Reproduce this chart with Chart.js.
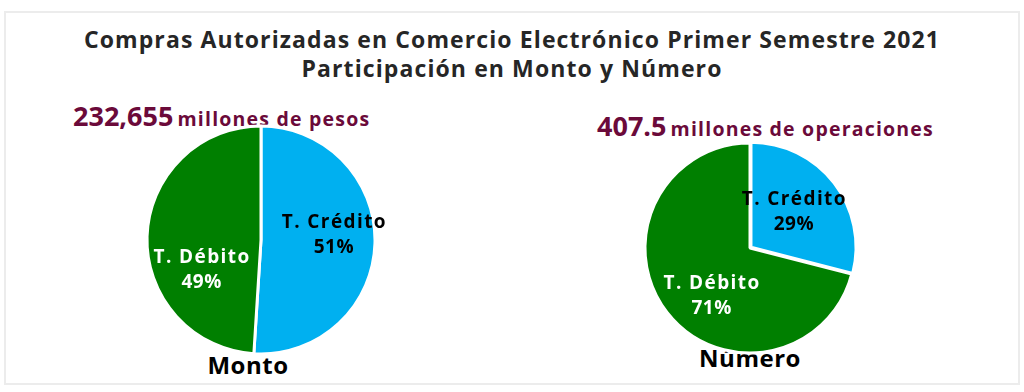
<!DOCTYPE html>
<html><head><meta charset="utf-8">
<script src="https://cdn.jsdelivr.net/npm/chart.js@4/dist/chart.umd.min.js"></script>
<style>
html,body{margin:0;padding:0;background:#fff;}
body{width:1024px;height:392px;position:relative;overflow:hidden;font-family:"Open Sans",sans-serif;}
#frame{position:absolute;left:4px;top:11px;width:1012px;height:370px;border:2px solid #ececec;box-sizing:content-box;}
.t{position:absolute;white-space:nowrap;font-weight:700;}
#title{left:0;width:1024px;top:25px;text-align:center;color:#262626;font-size:23px;line-height:29px;letter-spacing:1.1px;}
.sub{color:#6b0a3a;}
.big{font-size:27px;}
.small{font-size:19.5px;letter-spacing:1.2px;}
.cap{color:#000;font-size:24px;text-align:center;width:200px;letter-spacing:0.5px;}
canvas{position:absolute;}
</style></head>
<body>
<div id="frame"></div>
<div id="title" class="t">Compras Autorizadas en Comercio Electrónico Primer Semestre 2021<br>Participación en Monto y Número</div>
<div class="t sub" style="left:73px;top:97px;"><span class="big">232,655</span> <span class="small">millones de pesos</span></div>
<div class="t sub" style="left:597px;top:107px;"><span class="big">407.5</span> <span class="small">millones de operaciones</span></div>
<div class="t cap" style="left:148px;top:348px;">Monto</div>
<div class="t cap" style="left:650px;top:341px;">Número</div>
<canvas id="c1" width="260" height="260" style="left:131px;top:110px;"></canvas>
<canvas id="c2" width="260" height="260" style="left:620px;top:118px;"></canvas>
<script>
const categories = ['T. Crédito', 'T. Débito'];
const montoValues = [51, 49];
const numeroValues = [29, 71];
const colors = ['#00B0F0', '#007F00'];
const labelColors = ['#000000', '#ffffff'];
// label position tweaks (radial fraction, dx, dy)
const montoLabelPos = [[0.55, 10, -7], [0.55, 3, 32]];
const numeroLabelPos = [[0.55, -2, -1], [0.55, 7, 12]];

function labelPlugin(values, pos) {
  return {
    id: 'sliceLabels',
    afterDatasetsDraw(chart) {
      const ctx = chart.ctx;
      const meta = chart.getDatasetMeta(0);
      ctx.save();
      ctx.textAlign = 'center';
      ctx.textBaseline = 'middle';
      meta.data.forEach((arc, i) => {
        const mid = (arc.startAngle + arc.endAngle) / 2;
        const r = arc.outerRadius * pos[i][0];
        const x = arc.x + Math.cos(mid) * r + pos[i][1];
        const y = arc.y + Math.sin(mid) * r + pos[i][2];
        ctx.fillStyle = labelColors[i];
        ctx.font = '700 19px "Open Sans"';
        ctx.letterSpacing = '1.4px';
        ctx.fillText(categories[i], x + 0.7, y - 12);
        ctx.letterSpacing = '0.5px';
        ctx.fillText(values[i] + '%', x + 0.25, y + 13);
      });
      ctx.restore();
    }
  };
}

function makePie(id, values, radius, offsets, pos) {
  return new Chart(document.getElementById(id), {
    type: 'pie',
    data: {
      labels: categories,
      datasets: [{
        data: values,
        backgroundColor: colors,
        borderColor: '#ffffff',
        borderWidth: 3,
        offset: offsets,
        hoverOffset: 0
      }]
    },
    options: {
      responsive: false,
      devicePixelRatio: 1,
      animation: false,
      radius: radius,
      layout: { padding: 0 },
      plugins: { legend: { display: false }, tooltip: { enabled: false } },
      events: []
    },
    plugins: [labelPlugin(values, pos)]
  });
}

makePie('c1', montoValues, 114, [0, 0], montoLabelPos);
makePie('c2', numeroValues, 105, [5, 0], numeroLabelPos);
</script>
</body></html>
